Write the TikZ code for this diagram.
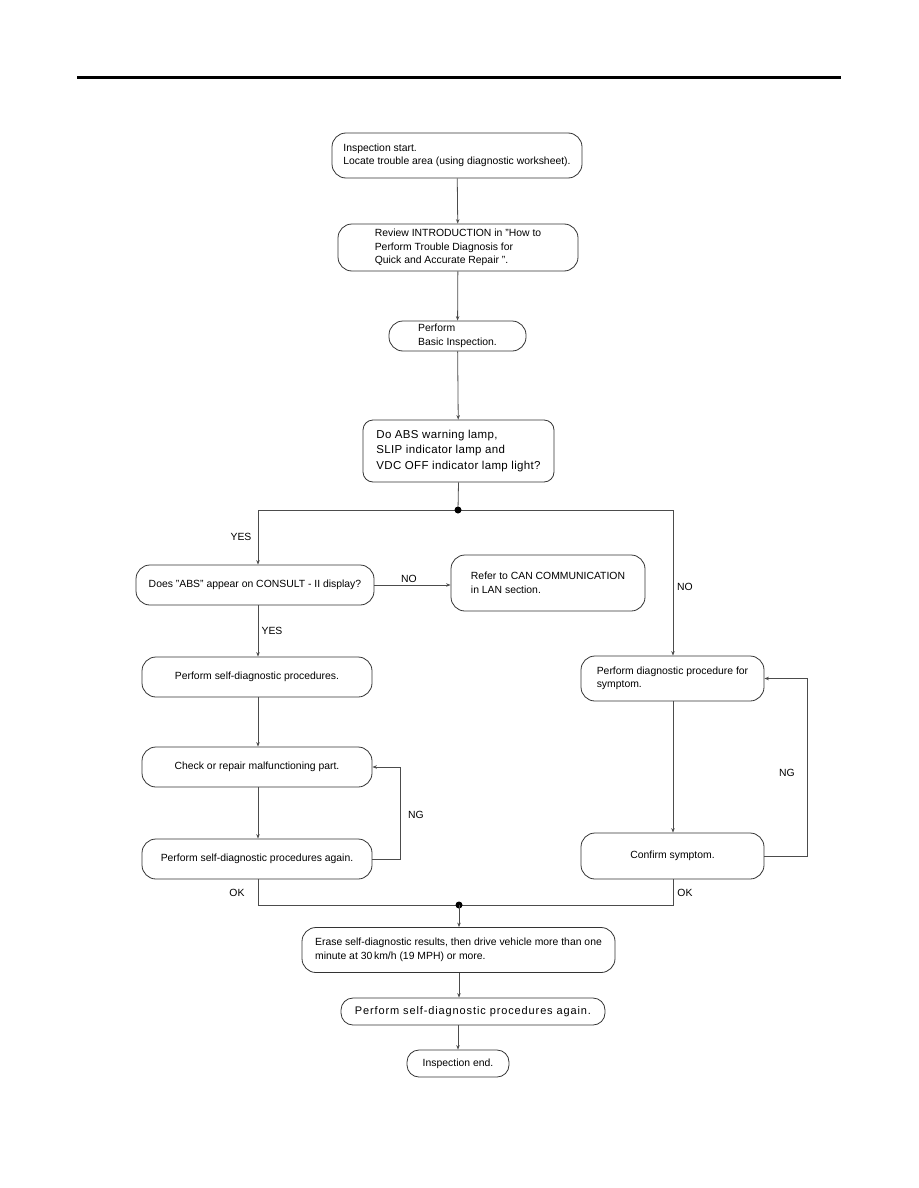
\documentclass[tikz,border=0pt]{standalone}
\usepackage{fontspec}
\setmainfont{Liberation Sans}
\newfontfamily\spacedfont[LetterSpace=8]{Liberation Sans}
\newfontfamily\decfont[LetterSpace=3]{Liberation Sans}
\usetikzlibrary{arrows.meta}
\begin{document}
\begin{tikzpicture}[x=1pt,y=-1pt,
  box/.style={draw=black!80, line width=0.8pt, rounded corners=14pt, align=left,
    inner sep=2pt, font=\fontsize{10.4}{13.5}\selectfont},
  conn/.style={draw=black!70, line width=0.8pt},
  arr/.style={conn, -{Stealth[length=4.5pt,width=3.5pt]}},
  lab/.style={font=\fontsize{10.4}{12}\selectfont, inner sep=0pt},
  dot/.style={circle, fill=black, inner sep=0pt, minimum size=7pt}]
\useasboundingbox (0,0) rectangle (918,1188);
\draw[line width=3pt] (77,78) -- (841,78);

\node[box, minimum width=250, minimum height=45] (n1) at (457,155.5)
  {Inspection start.\\Locate trouble area (using diagnostic worksheet).};
\node[box, minimum width=240, minimum height=47] (n2) at (458,247.5)
  {Review INTRODUCTION in "How to\\Perform Trouble Diagnosis for\\Quick and Accurate Repair ".};
\node[box, minimum width=137, minimum height=30] (n3) at (457.5,336)
  {Perform\\Basic Inspection.};
\node[box, rounded corners=10pt, minimum width=191, minimum height=62,
  font=\decfont\fontsize{11.5}{15.5}\selectfont] (n4) at (458.5,451)
  {Do ABS warning lamp,\\SLIP indicator lamp and\\VDC OFF indicator lamp light?};
\coordinate (j1) at (458,510);
\coordinate (cL) at (258,510);
\coordinate (cR) at (673,510);
\node[box, minimum width=238, minimum height=40] (n5) at (255,585)
  {Does "ABS" appear on CONSULT - II display?};
\node[box, minimum width=194, minimum height=56] (n6) at (548,583)
  {Refer to CAN COMMUNICATION\\in LAN section.};
\node[box, minimum width=230, minimum height=40] (n7) at (257,677)
  {Perform self-diagnostic procedures.};
\node[box, minimum width=230, minimum height=40] (n8) at (257,767)
  {Check or repair malfunctioning part.};
\node[box, minimum width=230, minimum height=40] (n9) at (257,859)
  {Perform self-diagnostic procedures again.};
\node[box, minimum width=183, minimum height=45] (n10) at (672.5,678.5)
  {Perform diagnostic procedure for\\symptom.};
\node[box, minimum width=183, minimum height=46] (n11) at (672.5,856)
  {Confirm symptom.};
\coordinate (j2) at (459,905);
\coordinate (bL) at (258,905);
\coordinate (bR) at (673,905);
\node[box, minimum width=313, minimum height=45] (n12) at (458.5,950)
  {Erase self-diagnostic results, then drive vehicle more than one\\minute at 30\,km/h (19 MPH) or more.};
\node[box, rounded corners=12pt, minimum width=264, minimum height=27,
  font=\spacedfont\fontsize{11}{13}\selectfont] (n13) at (473,1011.5)
  {Perform self-diagnostic procedures again.};
\node[box, rounded corners=12pt, minimum width=102, minimum height=27] (n14) at (458,1063.5)
  {Inspection end.};

% main column
\draw[arr] (n1) -- (n2);
\draw[arr] (n2) -- (n3);
\draw[arr] (n3) -- (n4);
\draw[conn] (n4.south) -- (j1);
\draw[conn] (cL) -- (cR);
\draw[arr] (cL) -- (cL |- n5.north);
\draw[arr] (cR) -- (cR |- n10.north);
\node[dot] (d1) at (j1) {};

% left branch
\draw[arr] (n5.east) -- (n5.east -| n6.west);
\draw[arr] (cL |- n5.south) -- (cL |- n7.north);
\draw[arr] (cL |- n7.south) -- (cL |- n8.north);
\draw[arr] (cL |- n8.south) -- (cL |- n9.north);
\draw[arr] (n9.east) -- ++(28,0) |- (n8.east);

% right branch
\draw[arr] (cR |- n10.south) -- (cR |- n11.north);
\draw[arr] (n11.east) -- ++(43,0) |- (n10.east);

% merge
\draw[conn] (cL |- n9.south) -- (bL) -- (bR) -- (cR |- n11.south);
\node[dot] (d2) at (j2) {};
\draw[arr] (j2) -- (j2 |- n12.north);
\draw[arr] (j2 |- n12.south) -- (j2 |- n13.north);
\draw[arr] (n14.north |- n13.south) -- (n14.north);

% labels
\node[lab] (lyes1) at (241,537) {YES};
\node[lab] (lno1) at (409,579) {NO};
\node[lab] (lno2) at (685,587) {NO};
\node[lab] (lyes2) at (272,631) {YES};
\node[lab] (lng1) at (416,815) {NG};
\node[lab] (lng2) at (787,773) {NG};
\node[lab] (lok1) at (237,893) {OK};
\node[lab] (lok2) at (685,893) {OK};
\end{tikzpicture}
\end{document}
